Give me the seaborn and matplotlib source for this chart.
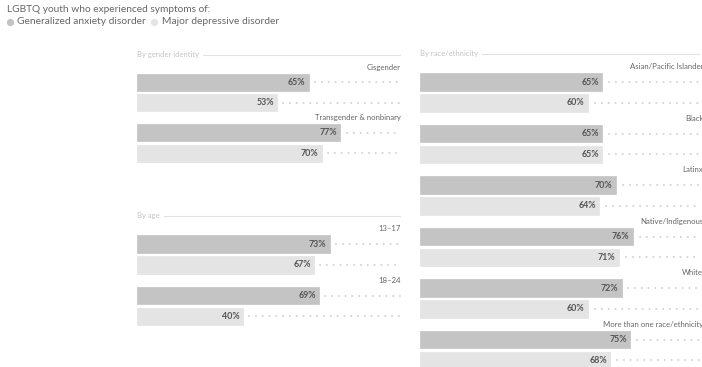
import matplotlib
matplotlib.use('Agg')
import matplotlib.pyplot as plt
from matplotlib.lines import Line2D
import seaborn as sns
import pandas as pd

sns.set_theme(style='white')
plt.rcParams['font.family'] = ['Lato', 'DejaVu Sans']

title = "LGBTQ youth who experienced symptoms of:"
series = ["Generalized anxiety disorder", "Major depressive disorder"]
colors = ["#c4c4c4", "#e4e4e4"]

gender_header = "By gender identity"
gender_cats = ["Cisgender", "Transgender & nonbinary"]
gender_gad = [65, 77]
gender_mdd = [53, 70]

age_header = "By age"
age_cats = ["13\u201317", "18\u201324"]
age_gad = [73, 69]
age_mdd = [67, 40]

race_header = "By race/ethnicity"
race_cats = ["Asian/Pacific Islander", "Black", "Latinx", "Native/Indigenous",
             "White", "More than one race/ethnicity"]
race_gad = [65, 65, 70, 76, 72, 75]
race_mdd = [60, 65, 64, 71, 60, 68]

W, H = 702, 367
fig = plt.figure(figsize=(W / 100, H / 100), dpi=100)
fig.patch.set_facecolor('white')


def add_axes_px(x0, x1, ytop, ybot):
    return fig.add_axes([x0 / W, 1 - ybot / H, (x1 - x0) / W, (ybot - ytop) / H])


def panel(ax, header, cats, gad, mdd, label_x):
    df = pd.DataFrame({
        'group': cats + cats,
        'value': gad + mdd,
        'series': [series[0]] * len(cats) + [series[1]] * len(cats),
    })
    sns.barplot(data=df, x='value', y='group', hue='series', hue_order=series,
                order=cats, palette=colors, orient='h', width=0.8, gap=0.15,
                saturation=1, legend=False, ax=ax)
    ax.set_xlim(0, 100)
    ax.set_ylim(len(cats) - 0.5, -0.9)
    ax.set_xticks([])
    ax.set_yticks([])
    ax.set_xlabel('')
    ax.set_ylabel('')
    for s in ax.spines.values():
        s.set_visible(False)
    ax.patch.set_alpha(0)
    for p in ax.patches:
        p.set_edgecolor(p.get_facecolor())
        p.set_linewidth(0.5)
        p.set_joinstyle('round')
        w = p.get_width()
        yc = p.get_y() + p.get_height() / 2
        ax.text(w - 1.2, yc, f"{int(round(w))}%", ha='right', va='center',
                fontsize=6.4, color='#555555', fontweight='bold')
        ax.plot([w + 2.4, 100], [yc, yc], ls=(0, (0.1, 3.4)), color='#d2d2d2',
                lw=1.4, dash_capstyle='round', solid_capstyle='round')
    for i, c in enumerate(cats):
        ax.text(label_x, i - 0.5, c, ha='right', va='center', fontsize=5.6,
                color='#666666', clip_on=False)
    t = ax.text(0, -0.76, header, ha='left', va='center', fontsize=5.5,
                color='#c4c4c4')
    fig.canvas.draw()
    bb = t.get_window_extent()
    x_end = ax.transData.inverted().transform((bb.x1 + 4, 0))[0]
    ax.plot([x_end, 100], [-0.74, -0.74], color='#e2e2e2', lw=0.8)


ax_g = add_axes_px(137, 401, 92.5 - 0.9 * 50.5, 92.5 + 1.5 * 50.5)
panel(ax_g, gender_header, gender_cats, gender_gad, gender_mdd, 100)

ax_a = add_axes_px(137, 401, 254.5 - 0.9 * 51.5, 254.5 + 1.5 * 51.5)
panel(ax_a, age_header, age_cats, age_gad, age_mdd, 100)

ax_r = add_axes_px(420, 700, 92.5 - 0.9 * 51.5, 92.5 + 5.5 * 51.5)
panel(ax_r, race_header, race_cats, race_gad, race_mdd, 101.2)

fig.text(7 / W, 1 - 9 / H, title, fontsize=7.3, color='#666666', va='center')
leg_y = 1 - 22 / H
fig.add_artist(Line2D([9.5 / W], [leg_y], marker='o', markersize=4.2, ls='',
                      color=colors[0], transform=fig.transFigure))
fig.text(17 / W, leg_y, series[0], fontsize=7.4, color='#666666', va='center')
fig.add_artist(Line2D([154 / W], [leg_y], marker='o', markersize=4.2, ls='',
                      color=colors[1], transform=fig.transFigure))
fig.text(162 / W, leg_y, series[1], fontsize=7.4, color='#666666', va='center')

fig.savefig('out.png', dpi=100, facecolor='white')
